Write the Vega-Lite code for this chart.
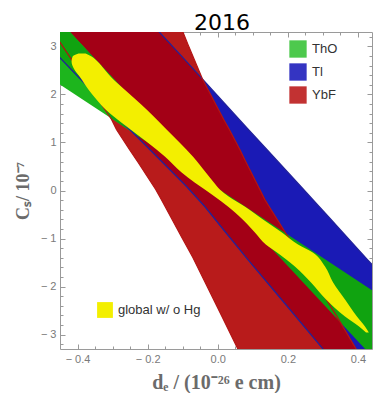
{
  "$schema": "https://vega.github.io/schema/vega-lite/v6.json",
  "width": 312,
  "height": 317,
  "autosize": "none",
  "padding": {"left": 60, "top": 32, "right": 4, "bottom": 44},
  "background": "white",
  "title": {"text": "2016", "font": "DejaVu Sans", "fontSize": 22, "fontWeight": "normal", "color": "#000000", "anchor": "middle", "offset": 3, "baseline": "alphabetic", "dx": 6, "dy": 23},
  "config": {"view": {"stroke": "#9a9a9a", "strokeWidth": 1}},
  "datasets": {
    "tl": [
      {"y": 3.5, "xl": -0.549, "xr": -0.192},
      {"y": 3.292, "xl": -0.521, "xr": -0.166},
      {"y": 2.771, "xl": -0.451, "xr": -0.1},
      {"y": 2.354, "xl": -0.396, "xr": -0.048},
      {"y": 1.312, "xl": -0.257, "xr": 0.082},
      {"y": 0.854, "xl": -0.194, "xr": 0.14},
      {"y": 0.083, "xl": -0.089, "xr": 0.237},
      {"y": -0.333, "xl": -0.037, "xr": 0.289},
      {"y": -0.604, "xl": -0.007, "xr": 0.323},
      {"y": -0.75, "xl": 0.009, "xr": 0.341},
      {"y": -1.438, "xl": 0.086, "xr": 0.427},
      {"y": -1.542, "xl": 0.098, "xr": 0.44},
      {"y": -2.062, "xl": 0.158, "xr": 0.505},
      {"y": -3.271, "xl": 0.297, "xr": 0.657},
      {"y": -3.5, "xl": 0.323, "xr": 0.686}
    ],
    "ybf": [
      {"y": 3.5, "xl": -0.489, "xr": -0.114},
      {"y": 3.312, "xl": -0.471, "xr": -0.1},
      {"y": 3.042, "xl": -0.446, "xr": -0.085},
      {"y": 2.312, "xl": -0.379, "xr": -0.043},
      {"y": 1.479, "xl": -0.303, "xr": 0.017},
      {"y": 1.271, "xl": -0.289, "xr": 0.033},
      {"y": 0.854, "xl": -0.252, "xr": 0.063},
      {"y": 0.583, "xl": -0.227, "xr": 0.081},
      {"y": 0.021, "xl": -0.177, "xr": 0.12},
      {"y": -0.188, "xl": -0.161, "xr": 0.134},
      {"y": -0.958, "xl": -0.104, "xr": 0.2},
      {"y": -1.396, "xl": -0.071, "xr": 0.237},
      {"y": -2.625, "xl": 0.012, "xr": 0.34},
      {"y": -3.292, "xl": 0.057, "xr": 0.394},
      {"y": -3.5, "xl": 0.071, "xr": 0.411}
    ],
    "both": [
      {"y": 3.5, "xl": -0.489, "xr": -0.192},
      {"y": 3.312, "xl": -0.471, "xr": -0.168},
      {"y": 3.042, "xl": -0.446, "xr": -0.134},
      {"y": 2.771, "xl": -0.418, "xr": -0.1},
      {"y": 2.354, "xl": -0.383, "xr": -0.048},
      {"y": 2.0, "xl": -0.349, "xr": -0.02},
      {"y": 1.479, "xl": -0.279, "xr": 0.017},
      {"y": 0.854, "xl": -0.194, "xr": 0.063},
      {"y": 0.083, "xl": -0.089, "xr": 0.116},
      {"y": -0.333, "xl": -0.037, "xr": 0.147},
      {"y": -0.958, "xl": 0.032, "xr": 0.2},
      {"y": -1.438, "xl": 0.086, "xr": 0.24},
      {"y": -2.062, "xl": 0.158, "xr": 0.293},
      {"y": -2.625, "xl": 0.223, "xr": 0.34},
      {"y": -3.292, "xl": 0.299, "xr": 0.394},
      {"y": -3.5, "xl": 0.323, "xr": 0.411}
    ],
    "tho_light": [
      {"y": 3.5, "xl": -0.719, "xr": -0.447},
      {"y": 2.188, "xl": -0.446, "xr": -0.279},
      {"y": 0.115, "xl": -0.015, "xr": -0.015}
    ],
    "tho_dark": [
      {"y": 3.5, "xl": -0.549, "xr": -0.447},
      {"y": 3.312, "xl": -0.522, "xr": -0.423},
      {"y": 2.771, "xl": -0.451, "xr": -0.354},
      {"y": 2.0, "xl": -0.351, "xr": -0.255},
      {"y": 1.51, "xl": -0.305, "xr": -0.193},
      {"y": 0.115, "xl": -0.015, "xr": -0.015},
      {"y": -1.229, "xl": 0.156, "xr": 0.264},
      {"y": -3.5, "xl": 0.446, "xr": 0.734}
    ],
    "glob": [
      {"y": 2.854, "xl": -0.397, "xr": -0.377},
      {"y": 2.792, "xl": -0.414, "xr": -0.36},
      {"y": 2.688, "xl": -0.417, "xr": -0.343},
      {"y": 2.521, "xl": -0.409, "xr": -0.323},
      {"y": 2.375, "xl": -0.394, "xr": -0.306},
      {"y": 2.104, "xl": -0.369, "xr": -0.266},
      {"y": 1.896, "xl": -0.346, "xr": -0.234},
      {"y": 1.688, "xl": -0.32, "xr": -0.203},
      {"y": 1.479, "xl": -0.286, "xr": -0.174},
      {"y": 1.271, "xl": -0.249, "xr": -0.146},
      {"y": 1.0, "xl": -0.2, "xr": -0.109},
      {"y": 0.708, "xl": -0.151, "xr": -0.071},
      {"y": 0.375, "xl": -0.103, "xr": -0.034},
      {"y": 0.167, "xl": -0.066, "xr": -0.011},
      {"y": 0.021, "xl": -0.037, "xr": 0.006},
      {"y": -0.125, "xl": -0.009, "xr": 0.031},
      {"y": -0.333, "xl": 0.029, "xr": 0.077},
      {"y": -0.604, "xl": 0.071, "xr": 0.129},
      {"y": -0.875, "xl": 0.106, "xr": 0.183},
      {"y": -1.125, "xl": 0.137, "xr": 0.229},
      {"y": -1.292, "xl": 0.169, "xr": 0.271},
      {"y": -1.583, "xl": 0.22, "xr": 0.306},
      {"y": -1.917, "xl": 0.266, "xr": 0.329},
      {"y": -2.271, "xl": 0.309, "xr": 0.363},
      {"y": -2.625, "xl": 0.363, "xr": 0.397},
      {"y": -2.833, "xl": 0.403, "xr": 0.42},
      {"y": -2.958, "xl": 0.423, "xr": 0.431}
    ]
  },
  "resolve": {"scale": {"fill": "independent"}, "axis": {"x": "independent", "y": "independent"}},
  "layer": [
    {
      "data": {"name": "tl"},
      "mark": {"type": "area", "orient": "horizontal", "clip": true, "color": "#1a1ab5"},
      "encoding": {
        "y": {"field": "y", "type": "quantitative", "scale": {"domain": [-3.3, 3.3], "nice": false, "zero": false},
          "axis": {"orient": "left", "values": [-3, -2, -1, 0, 1, 2, 3], "labelExpr": "datum.value < 0 ? '− ' + format(-datum.value, 'd') : format(datum.value, 'd')", "domain": false, "grid": false, "tickSize": -5, "tickColor": "#999999", "labelPadding": 9, "labelFont": "Liberation Sans", "labelFontSize": 11, "labelColor": "#7a7a7a", "labelOverlap": false, "labelFlush": false, "title": "Cₛ/ 10⁻⁷", "titleFont": "Liberation Serif", "titleFontSize": 18, "titleFontWeight": "bold", "titleColor": "#6b6b6b", "titleX": -32, "titleAngle": -90, "titleBaseline": "alphabetic"}},
        "x": {"field": "xl", "type": "quantitative", "scale": {"domain": [-0.45, 0.44], "nice": false, "zero": false},
          "axis": {"orient": "bottom", "values": [-0.4, -0.2, 0, 0.2, 0.4], "labelExpr": "datum.value < 0 ? '− ' + format(-datum.value, '.1f') : format(datum.value, '.1f')", "domain": false, "grid": false, "tickSize": -5, "tickColor": "#999999", "labelPadding": 9, "labelFont": "Liberation Sans", "labelFontSize": 11, "labelColor": "#7a7a7a", "labelOverlap": false, "labelFlush": false, "title": "dₑ / (10⁻²⁶ e cm)", "titleFont": "Liberation Serif", "titleFontSize": 20, "titleFontWeight": "bold", "titleColor": "#6b6b6b", "titleBaseline": "alphabetic", "titleY": 39}},
        "x2": {"field": "xr"}
      }
    },
    {
      "data": {"name": "ybf"},
      "mark": {"type": "area", "orient": "horizontal", "clip": true, "color": "#b81b1b"},
      "encoding": {
        "y": {"field": "y", "type": "quantitative", "scale": {"domain": [-3.3, 3.3], "nice": false, "zero": false},
          "axis": {"orient": "left", "values": [-3.2, -2.8, -2.6, -2.4, -2.2, -1.8, -1.6, -1.4, -1.2, -0.8, -0.6, -0.4, -0.2, 0.2, 0.4, 0.6, 0.8, 1.2, 1.4, 1.6, 1.8, 2.2, 2.4, 2.6, 2.8, 3.2], "labels": false, "domain": false, "grid": false, "tickSize": -3, "tickColor": "#999999", "title": null}},
        "x": {"field": "xl", "type": "quantitative", "scale": {"domain": [-0.45, 0.44], "nice": false, "zero": false},
          "axis": {"orient": "bottom", "values": [-0.35, -0.3, -0.25, -0.15, -0.1, -0.05, 0.05, 0.1, 0.15, 0.25, 0.3, 0.35], "labels": false, "domain": false, "grid": false, "tickSize": -3, "tickColor": "#999999", "title": null}},
        "x2": {"field": "xr"}
      }
    },
    {
      "data": {"name": "both"},
      "mark": {"type": "area", "orient": "horizontal", "clip": true, "color": "#a30016"},
      "encoding": {
        "y": {"field": "y", "type": "quantitative", "scale": {"domain": [-3.3, 3.3], "nice": false, "zero": false},
          "axis": {"orient": "right", "values": [-3, -2, -1, 0, 1, 2, 3], "labels": false, "domain": false, "grid": false, "tickSize": -5, "tickColor": "#999999", "title": null}},
        "x": {"field": "xl", "type": "quantitative", "scale": {"domain": [-0.45, 0.44], "nice": false, "zero": false},
          "axis": {"orient": "top", "values": [-0.4, -0.2, 0, 0.2, 0.4], "labels": false, "domain": false, "grid": false, "tickSize": -5, "tickColor": "#999999", "title": null}},
        "x2": {"field": "xr"}
      }
    },
    {
      "data": {"name": "tho_light"},
      "mark": {"type": "area", "orient": "horizontal", "clip": true, "color": "#1db51d"},
      "encoding": {
        "y": {"field": "y", "type": "quantitative", "scale": {"domain": [-3.3, 3.3], "nice": false, "zero": false},
          "axis": {"orient": "right", "values": [-3.2, -2.8, -2.6, -2.4, -2.2, -1.8, -1.6, -1.4, -1.2, -0.8, -0.6, -0.4, -0.2, 0.2, 0.4, 0.6, 0.8, 1.2, 1.4, 1.6, 1.8, 2.2, 2.4, 2.6, 2.8, 3.2], "labels": false, "domain": false, "grid": false, "tickSize": -3, "tickColor": "#999999", "title": null}},
        "x": {"field": "xl", "type": "quantitative", "scale": {"domain": [-0.45, 0.44], "nice": false, "zero": false},
          "axis": {"orient": "top", "values": [-0.35, -0.3, -0.25, -0.15, -0.1, -0.05, 0.05, 0.1, 0.15, 0.25, 0.3, 0.35], "labels": false, "domain": false, "grid": false, "tickSize": -3, "tickColor": "#999999", "title": null}},
        "x2": {"field": "xr"}
      }
    },
    {
      "data": {"name": "tho_dark"},
      "mark": {"type": "area", "orient": "horizontal", "clip": true, "color": "#10a310"},
      "encoding": {
        "y": {"field": "y", "type": "quantitative", "axis": null},
        "x": {"field": "xl", "type": "quantitative", "axis": null},
        "x2": {"field": "xr"}
      }
    },
    {
      "data": {"name": "tl"},
      "mark": {"type": "line", "clip": true, "color": "#22229a", "strokeWidth": 1.3},
      "encoding": {
        "y": {"field": "y", "type": "quantitative", "axis": null},
        "x": {"field": "xl", "type": "quantitative", "axis": null},
        "order": {"field": "y", "type": "quantitative"}
      }
    },
    {
      "data": {"name": "tl"},
      "mark": {"type": "line", "clip": true, "color": "#22229a", "strokeWidth": 1.3},
      "encoding": {
        "y": {"field": "y", "type": "quantitative", "axis": null},
        "x": {"field": "xr", "type": "quantitative", "axis": null},
        "order": {"field": "y", "type": "quantitative"}
      }
    },
    {
      "data": {"name": "ybf"},
      "mark": {"type": "line", "clip": true, "color": "#b31414", "strokeWidth": 1.2},
      "encoding": {
        "y": {"field": "y", "type": "quantitative", "axis": null},
        "x": {"field": "xl", "type": "quantitative", "axis": null},
        "order": {"field": "y", "type": "quantitative"}
      }
    },
    {
      "data": {"name": "ybf"},
      "mark": {"type": "line", "clip": true, "color": "#b31414", "strokeWidth": 1.2},
      "encoding": {
        "y": {"field": "y", "type": "quantitative", "axis": null},
        "x": {"field": "xr", "type": "quantitative", "axis": null},
        "order": {"field": "y", "type": "quantitative"}
      }
    },
    {
      "data": {"name": "glob"},
      "mark": {"type": "area", "orient": "horizontal", "clip": true, "color": "#f3ef00", "interpolate": "monotone"},
      "encoding": {
        "y": {"field": "y", "type": "quantitative", "axis": null},
        "x": {"field": "xl", "type": "quantitative", "axis": null},
        "x2": {"field": "xr"}
      }
    },
    {
      "data": {"values": [{"k": "ThO"}, {"k": "Tl"}, {"k": "YbF"}]},
      "mark": {"type": "square", "opacity": 0},
      "encoding": {
        "fill": {"field": "k", "type": "nominal", "scale": {"domain": ["ThO", "Tl", "YbF"], "range": ["#4dc94d", "#3434c2", "#c23232"]},
          "legend": {"orient": "none", "legendX": 229, "legendY": 8, "title": null, "symbolType": "square", "symbolSize": 300, "symbolOpacity": 1, "symbolStrokeWidth": 0, "labelFont": "Liberation Sans", "labelFontSize": 13, "labelColor": "#333333", "labelOffset": 5, "rowPadding": 5, "padding": 0}}
      }
    },
    {
      "data": {"values": [{"k": "global w/ o Hg"}]},
      "mark": {"type": "square", "opacity": 0},
      "encoding": {
        "fill": {"field": "k", "type": "nominal", "scale": {"domain": ["global w/ o Hg"], "range": ["#f3ef00"]},
          "legend": {"orient": "none", "legendX": 37, "legendY": 270, "title": null, "symbolType": "square", "symbolSize": 250, "symbolOpacity": 1, "symbolStrokeWidth": 0, "labelFont": "Liberation Sans", "labelFontSize": 13, "labelColor": "#333333", "labelOffset": 5, "padding": 0}}
      }
    }
  ]
}
